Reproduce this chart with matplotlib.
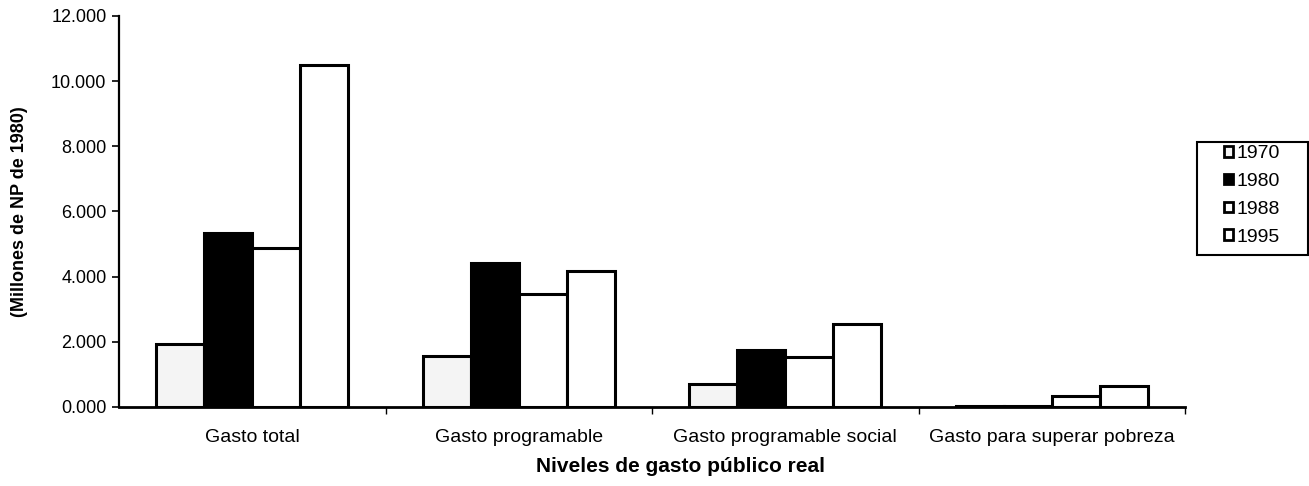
import matplotlib
matplotlib.use("Agg")
import matplotlib.pyplot as plt
from matplotlib.patches import Rectangle
import numpy as np
from matplotlib.ticker import FuncFormatter

categories = ["Gasto total", "Gasto programable", "Gasto programable social",
              "Gasto para superar pobreza"]
years = ["1970", "1980", "1988", "1995"]
v1970 = [1930, 1570, 700, 20]
v1980 = [5350, 4410, 1750, 20]
v1988 = [4880, 3470, 1540, 350]
v1995 = [10500, 4180, 2550, 650]
series = [v1970, v1980, v1988, v1995]
fills = ["#f4f4f4", "#000000", "#ffffff", "#ffffff"]

plt.rcParams["font.family"] = ["Liberation Sans", "DejaVu Sans"]

fig = plt.figure(figsize=(13.09, 4.86), dpi=100)
ax = fig.add_axes([0.0909, 0.1626, 0.8144, 0.8045])

x = np.arange(len(categories))
w = 0.18
for k, (vals, fc) in enumerate(zip(series, fills)):
    ax.bar(x + (k - 1.5) * w, vals, width=w, color=fc, edgecolor="black",
           linewidth=2.2, label=years[k], zorder=3)

ax.set_xlim(-0.5, 3.5)
ax.set_ylim(0, 12000)
ax.set_yticks(np.arange(0, 12001, 2000))
ax.yaxis.set_major_formatter(FuncFormatter(lambda v, p: f"{v/1000:.3f}"))
ax.set_xticks(x)
ax.set_xticklabels(categories, fontsize=14)
ax.set_xticks(np.arange(0.5, 4, 1), minor=True)
ax.tick_params(axis="x", which="major", length=0, pad=16)
ax.tick_params(axis="x", which="minor", length=5, width=1, direction="out")
ax.tick_params(axis="y", labelsize=13, length=5, width=1.2, pad=4)

for s in ["top", "right"]:
    ax.spines[s].set_visible(False)
ax.spines["left"].set_linewidth(1.6)
ax.spines["bottom"].set_linewidth(2.0)

ax.set_ylabel("(Millones de NP de 1980)", fontsize=13, fontweight="bold")
ax.yaxis.set_label_coords(-0.0854, 0.5)
ax.set_xlabel("Niveles de gasto público real", fontsize=15, fontweight="bold")
ax.xaxis.set_label_coords(0.527, -0.128)

leg = fig.legend(*ax.get_legend_handles_labels(), loc="center",
                 bbox_to_anchor=(1252 / 1309, 1 - 195.5 / 486), fontsize=14,
                 frameon=False, handlelength=0.45, handleheight=0.45,
                 handletextpad=0.15, labelspacing=0.55, borderpad=0)
for h in leg.legend_handles:
    h.set_linewidth(2.0)
fig.patches.append(Rectangle((1197 / 1309, 1 - 255 / 486), 111 / 1309, 113 / 486,
                             transform=fig.transFigure, fill=False,
                             edgecolor="black", linewidth=1.5))

fig.savefig("out.png", dpi=100)
